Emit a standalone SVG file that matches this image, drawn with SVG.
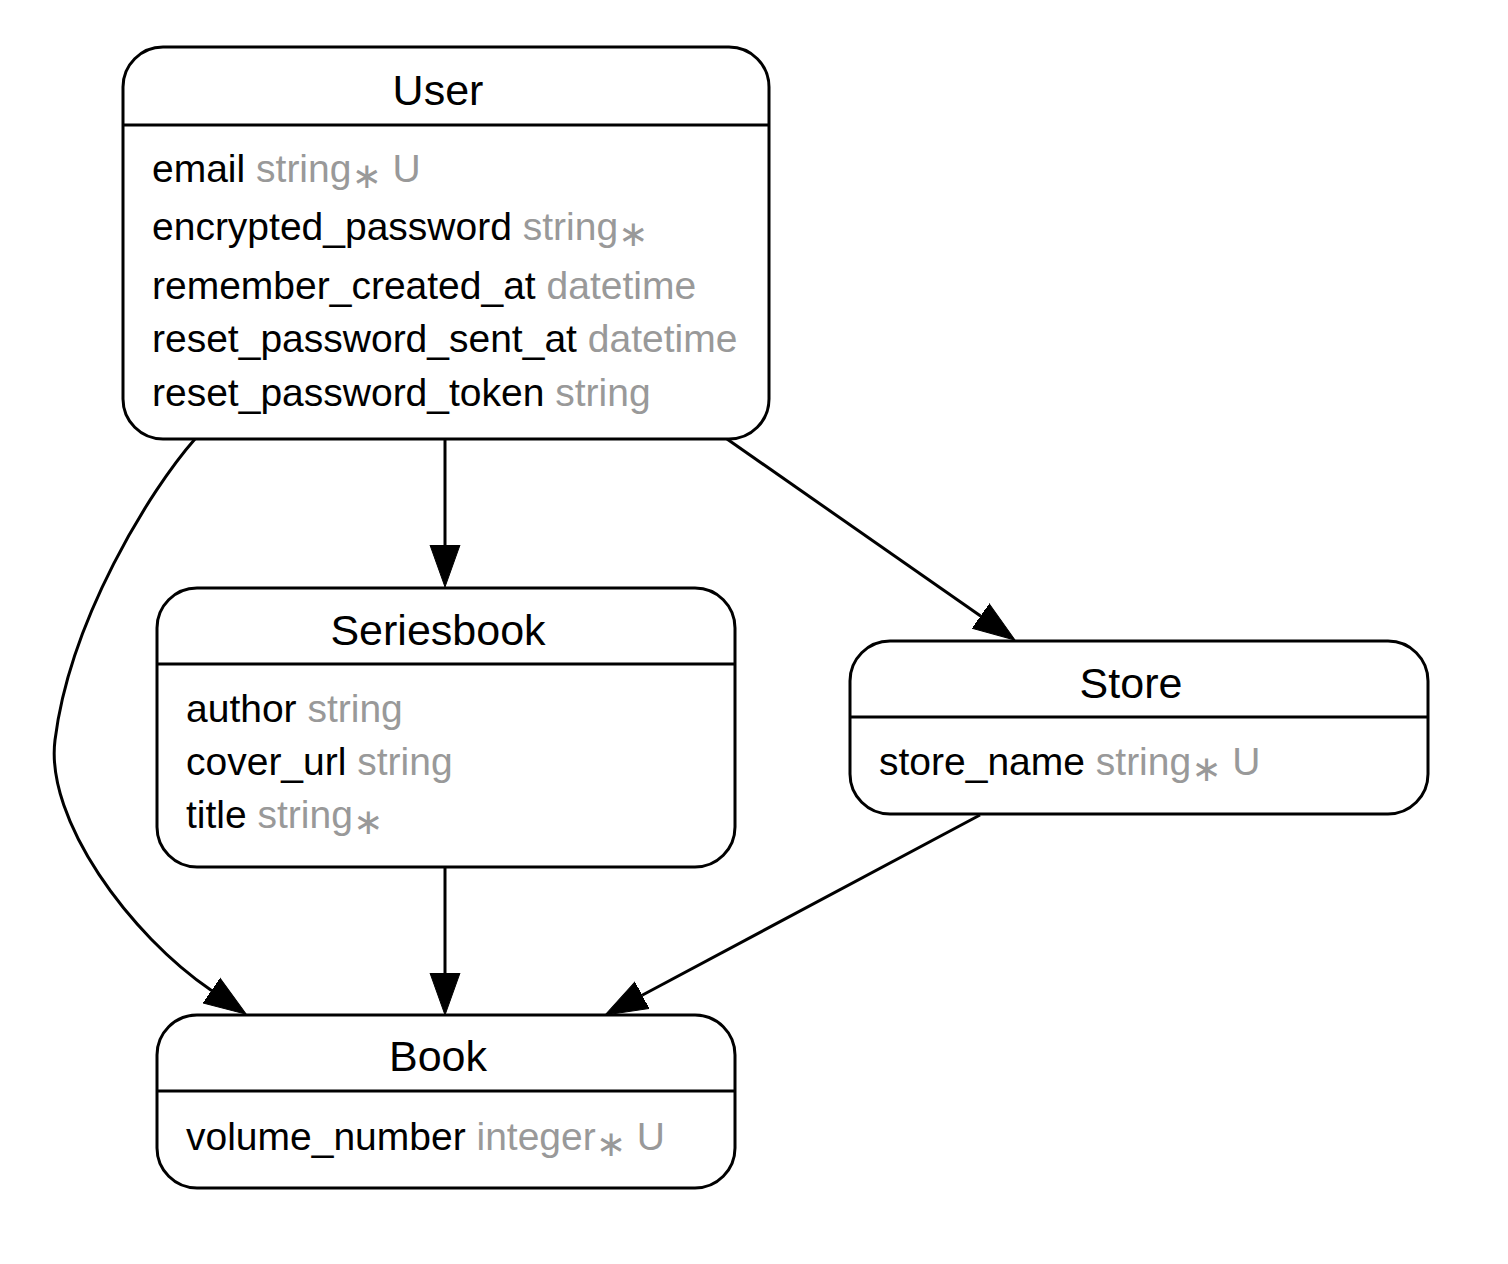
<svg xmlns="http://www.w3.org/2000/svg" width="1508" height="1264" viewBox="0 0 1508 1264">
<style>
.box{fill:#fff;stroke:#000;stroke-width:3}
.div{stroke:#000;stroke-width:3}
.title{font-family:"Liberation Sans",Arial,sans-serif;font-size:43px;fill:#000;text-anchor:middle}
.attr{font-family:"Liberation Sans",Arial,sans-serif;font-size:39px;fill:#000}
.type{fill:#999}
.star{font-family:"DejaVu Sans",sans-serif;font-size:36px}
.edge{fill:none;stroke:#000;stroke-width:3}
</style>
<defs>
<marker id="arrow" markerUnits="userSpaceOnUse" markerWidth="44" markerHeight="32" viewBox="0 -16 44 32" refX="0" refY="0" orient="auto">
<path d="M0,-15 L42,0 L0,15 Z" fill="#000" stroke="#000" stroke-width="1"/>
</marker>
</defs>
<rect width="1508" height="1264" fill="#fff"/>
<g id="edges">
<path class="edge" d="M445,439 L445,545" marker-end="url(#arrow)"/>
<path class="edge" d="M727,439 L980.6,616" marker-end="url(#arrow)"/>
<path class="edge" d="M195,439 C150,490 70,620 55,740 C45,820 130,935 211.5,990.5" marker-end="url(#arrow)"/>
<path class="edge" d="M445,867 L445,973" marker-end="url(#arrow)"/>
<path class="edge" d="M980,815 L642.1,995.2" marker-end="url(#arrow)"/>
</g>
<g id="node-user">
<rect class="box" x="123" y="47" width="646" height="392" rx="40" ry="40"/>
<line class="div" x1="123" y1="125" x2="769" y2="125"/>
<text class="title" x="438" y="105">User</text>
<text class="attr" x="152" y="182">email <tspan class="type">string<tspan class="star" dy="6">∗</tspan><tspan dy="-6"> U</tspan></tspan></text>
<text class="attr" x="152" y="240">encrypted_password <tspan class="type">string<tspan class="star" dy="6">∗</tspan></tspan></text>
<text class="attr" x="152" y="299">remember_created_at <tspan class="type">datetime</tspan></text>
<text class="attr" x="152" y="352">reset_password_sent_at <tspan class="type">datetime</tspan></text>
<text class="attr" x="152" y="406">reset_password_token <tspan class="type">string</tspan></text>
</g>
<g id="node-seriesbook">
<rect class="box" x="157" y="588" width="578" height="279" rx="40" ry="40"/>
<line class="div" x1="157" y1="664" x2="735" y2="664"/>
<text class="title" x="438" y="645">Seriesbook</text>
<text class="attr" x="186" y="722">author <tspan class="type">string</tspan></text>
<text class="attr" x="186" y="775">cover_url <tspan class="type">string</tspan></text>
<text class="attr" x="186" y="828">title <tspan class="type">string<tspan class="star" dy="6">∗</tspan></tspan></text>
</g>
<g id="node-store">
<rect class="box" x="850" y="641" width="578" height="173" rx="40" ry="40"/>
<line class="div" x1="850" y1="717" x2="1428" y2="717"/>
<text class="title" x="1131" y="698">Store</text>
<text class="attr" x="879" y="775">store_name <tspan class="type">string<tspan class="star" dy="6">∗</tspan><tspan dy="-6"> U</tspan></tspan></text>
</g>
<g id="node-book">
<rect class="box" x="157" y="1015" width="578" height="173" rx="40" ry="40"/>
<line class="div" x1="157" y1="1091" x2="735" y2="1091"/>
<text class="title" x="438" y="1071">Book</text>
<text class="attr" x="186" y="1150">volume_number <tspan class="type">integer<tspan class="star" dy="6">∗</tspan><tspan dy="-6"> U</tspan></tspan></text>
</g>
</svg>
